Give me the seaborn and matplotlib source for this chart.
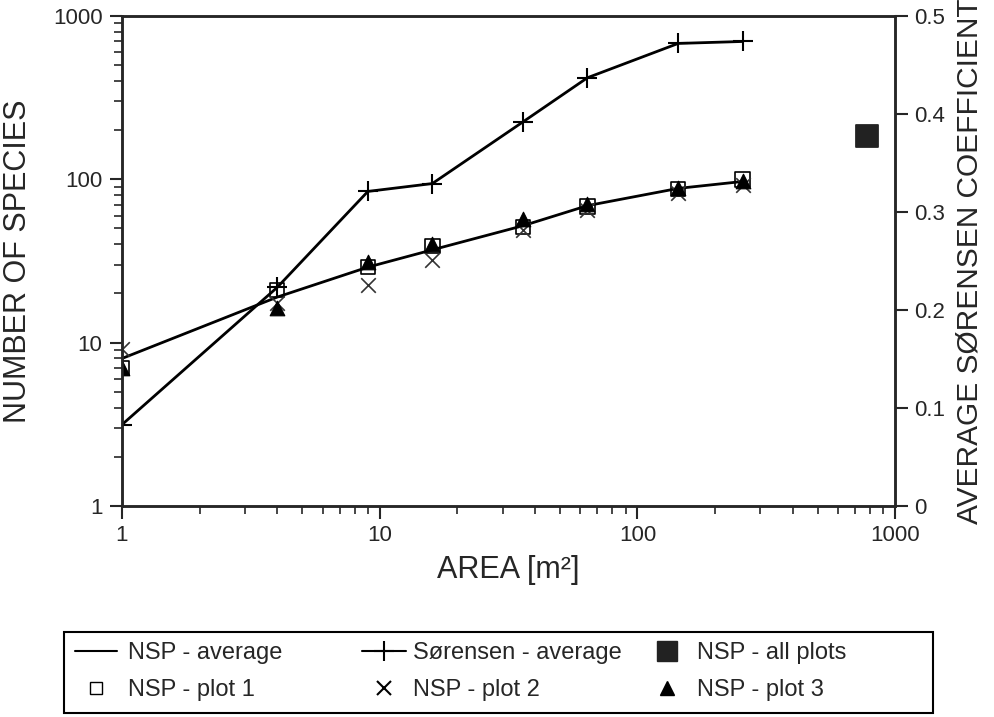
import matplotlib.pyplot as plt
import matplotlib.ticker as mticker
from matplotlib.lines import Line2D
from matplotlib.patches import Rectangle
import pandas as pd
import seaborn as sns

# plot sizes in m2
area = [1, 4, 9, 16, 36, 64, 144, 256]
nsp_average = [8.0, 19, 29, 37, 52, 69, 88, 97]
nsp_plot1 = [7.0, 21, 29, 39, 51, 68, 87, 100]
nsp_plot2 = [9.1, 17.6, 22.4, 32, 49, 65, 82, 92]
nsp_plot3 = [7.0, 16.2, 31, 40, 57, 71, 88, 97]
sorensen_average = [0.083, 0.223, 0.321, 0.329, 0.392, 0.437, 0.472, 0.474]
all_plots_area = [780]
all_plots_nsp = [184]

sns.set_style("ticks")
plt.rcParams['font.family'] = ['Liberation Sans', 'DejaVu Sans']

df = pd.DataFrame({"area": area, "avg": nsp_average, "p1": nsp_plot1,
                   "p2": nsp_plot2, "p3": nsp_plot3, "sor": sorensen_average})

fig = plt.figure(figsize=(9.95, 7.17), dpi=100)
ax = fig.add_axes([0.1226, 0.2943, 0.777, 0.6834])
ax2 = ax.twinx()

sns.lineplot(data=df, x="area", y="avg", ax=ax, color="black", lw=2)
sns.scatterplot(data=df, x="area", y="p1", ax=ax, marker="s", s=110,
                facecolor="none", edgecolor="black", linewidth=1.2, zorder=3)
sns.scatterplot(data=df, x="area", y="p2", ax=ax, marker="x", s=110,
                color="#333333", linewidth=1.2, zorder=3)
sns.scatterplot(data=df, x="area", y="p3", ax=ax, marker="^", s=110,
                color="black", edgecolor="black", zorder=4)
sns.scatterplot(x=all_plots_area, y=all_plots_nsp, ax=ax, marker="s", s=260,
                color="#222222", edgecolor="#222222", zorder=4)
sns.lineplot(data=df, x="area", y="sor", ax=ax2, color="black", lw=2,
             marker="+", markersize=14, markeredgewidth=1.5,
             markeredgecolor="black")

ax.set_xscale("log")
ax.set_yscale("log")
ax.set_xlim(1, 1000)
ax.set_ylim(1, 1000)
ax2.set_ylim(0, 0.5)
ax2.set_yticks([0, 0.1, 0.2, 0.3, 0.4, 0.5])
ax2.set_yticklabels(["0", "0.1", "0.2", "0.3", "0.4", "0.5"])
ax.xaxis.set_major_formatter(mticker.FuncFormatter(lambda v, p: f"{v:g}"))
ax.yaxis.set_major_formatter(mticker.FuncFormatter(lambda v, p: f"{v:g}"))

for a in (ax, ax2):
    for s in a.spines.values():
        s.set_linewidth(1.8)
        s.set_visible(True)
    a.tick_params(which="major", length=9, width=1.5, labelsize=16, pad=5)
    a.tick_params(which="minor", length=6, width=1.2)

ax.set_xlabel("AREA [m²]", fontsize=22, labelpad=6)
ax.set_ylabel("NUMBER OF SPECIES", fontsize=22, labelpad=14)
ax2.set_ylabel("AVERAGE SØRENSEN COEFFICIENT", fontsize=21.5, labelpad=7)

# legend: three columns placed separately inside one frame
fig.patches.append(Rectangle((0.0643, 0.0056), 0.873, 0.113, transform=fig.transFigure,
                             fill=False, edgecolor="black", linewidth=1.5))

columns = [
    (0.0754, 1.76, 0.47, [
        Line2D([], [], color="black", lw=1.5, label="NSP - average"),
        Line2D([], [], ls="none", marker="s", mfc="none", mec="black", ms=9, label="NSP - plot 1"),
    ]),
    (0.3638, 1.86, 0.3, [
        Line2D([], [], color="black", lw=1.5, marker="+", ms=14, mew=1.5, label="Sørensen - average"),
        Line2D([], [], ls="none", marker="x", color="black", ms=10, mew=1.5, label="NSP - plot 2"),
    ]),
    (0.6583, 1.0, 0.76, [
        Line2D([], [], ls="none", marker="s", color="#222222", ms=15, label="NSP - all plots"),
        Line2D([], [], ls="none", marker="^", color="black", ms=10, label="NSP - plot 3"),
    ]),
]
for x0, hl, hp, hs in columns:
    fig.legend(handles=hs, loc="center left", bbox_to_anchor=(x0, 0.0635),
               fontsize=17, frameon=False, borderpad=0, borderaxespad=0,
               handlelength=hl, handletextpad=hp, labelspacing=0.63)

fig.savefig("out.png", dpi=100)
